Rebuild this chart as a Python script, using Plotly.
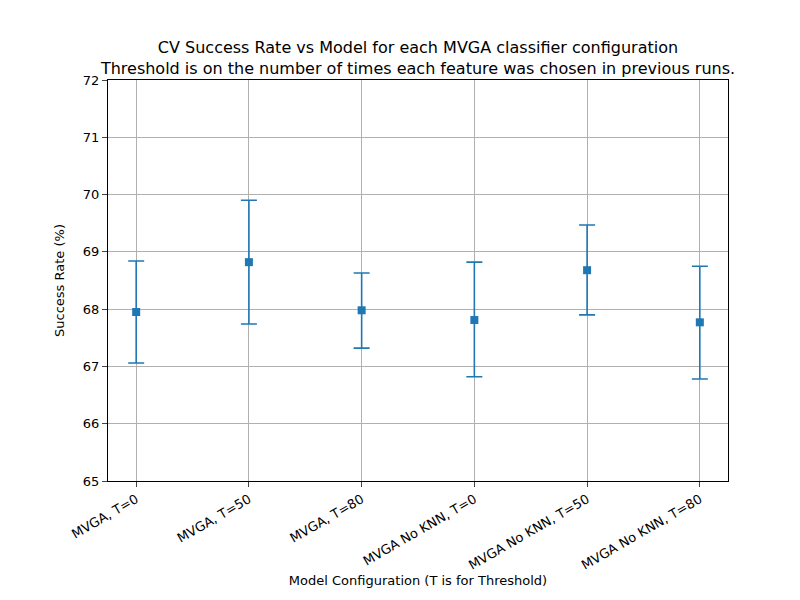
import plotly.graph_objects as go

categories = ["MVGA, T=0", "MVGA, T=50", "MVGA, T=80", "MVGA No KNN, T=0", "MVGA No KNN, T=50", "MVGA No KNN, T=80"]
means = [67.95, 68.82, 67.98, 67.81, 68.68, 67.77]
upper = [68.84, 69.90, 68.63, 68.82, 69.47, 68.75]
lower = [67.06, 67.74, 67.32, 66.82, 67.90, 66.78]

err_plus = [u - m for u, m in zip(upper, means)]
err_minus = [m - l for m, l in zip(means, lower)]

fig = go.Figure(go.Scatter(
    x=list(range(len(categories))), y=means, mode="markers",
    marker=dict(symbol="square", size=8, color="#1f77b4"),
    error_y=dict(type="data", symmetric=False, array=err_plus, arrayminus=err_minus,
                 color="#1f77b4", thickness=1.6, width=8),
))
fig.update_layout(
    width=800, height=600, plot_bgcolor="white", paper_bgcolor="white",
    margin=dict(l=100, r=80, t=72, b=127, autoexpand=False),
    font=dict(family="DejaVu Sans", size=13, color="black"),
    title=dict(text="CV Success Rate vs Model for each MVGA classifier configuration<br>Threshold is on the number of times each feature was chosen in previous runs.",
               x=0.5125, xanchor="center", y=0.925, yanchor="middle", font=dict(size=16)),
    showlegend=False,
)
fig.update_xaxes(tickvals=list(range(len(categories))), ticktext=categories, tickangle=-30,
                 range=[-0.25, 5.25], showgrid=True, gridcolor="#b0b0b0", showline=True,
                 linecolor="black", mirror=True, ticks="outside", zeroline=False, automargin=False,
                 title=dict(text="Model Configuration (T is for Threshold)", font=dict(size=13), standoff=0))
fig.update_yaxes(range=[65, 72], dtick=1, showgrid=True, gridcolor="#b0b0b0", showline=True,
                 linecolor="black", mirror=True, ticks="outside", zeroline=False, automargin=False,
                 title=dict(text="Success Rate (%)", font=dict(size=13)))
fig.write_html("out.html")
